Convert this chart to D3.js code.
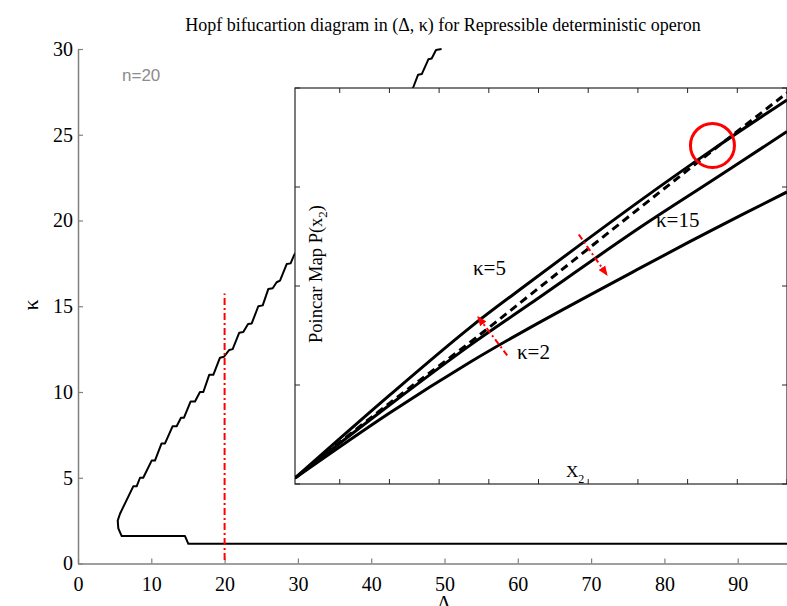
<!DOCTYPE html>
<html>
<head>
<meta charset="utf-8">
<script src="https://cdn.jsdelivr.net/npm/d3@7"></script>
<style>
  html, body { margin: 0; padding: 0; background: #fff; }
  svg { display: block; }
</style>
</head>
<body>
<script>
// ---------- data ----------
const titleText = "Hopf bifucartion diagram in (\u0394, \u03BA) for Repressible deterministic operon";
const xTicks = [0, 10, 20, 30, 40, 50, 60, 70, 80, 90];
const yTicks = [0, 5, 10, 15, 20, 25, 30];
// Hopf boundary [Delta, kappa]
const hopfBoundary = [
  [100, 1.15], [15.05, 1.15], [14.6, 1.6], [5.96, 1.6], [5.5, 2.05], [5.42, 2.5], [5.73, 2.9],
  [7.54, 4.5], [8.0, 4.5], [8.46, 5.0], [8.9, 5.0], [10.05, 6.0], [10.5, 6.0],
  [11.4, 7.0], [11.87, 7.0], [12.9, 8.0], [13.46, 8.0], [14.05, 8.5], [14.46, 8.5],
  [15.37, 9.45], [15.96, 9.45], [16.64, 10.0], [17.1, 10.0], [17.9, 11.0], [18.46, 11.0],
  [19.37, 12.0], [19.9, 12.05], [20.64, 12.45], [21.1, 12.5], [22.0, 13.46], [22.55, 13.5],
  [23.2, 13.96], [23.7, 14.0], [24.6, 15.0], [25.2, 15.05], [25.96, 16.0], [26.56, 16.05],
  [27.1, 16.4], [27.56, 16.5], [28.47, 17.46], [29.0, 17.5], [29.5, 18.0],
  [45.74, 27.77], [46.4, 28.5], [46.9, 28.54], [47.8, 29.4], [48.25, 29.45], [48.84, 29.94], [49.6, 30.0]
];
const redLineDelta = 20;
const redLineKappa = [0.2, 15.75];

// inset (Poincare map) series
const insetX       = [0.1, 2.01, 3.62, 4.83, 7.04, 8.51, 10];
const kappa5Top    = [0.06, 0.90, 1.58, 2.04, 2.86, 3.38, 3.88];
const identityDash = [0.06, 0.82, 1.43, 1.91, 2.79, 3.37, 3.95];
const kappa15Mid   = [0.06, 0.80, 1.40, 1.82, 2.59, 3.07, 3.56];
const kappa2Bottom = [0.06, 0.72, 1.23, 1.58, 2.18, 2.57, 2.95];
const insetXTicks = [1, 2, 3, 4, 5, 6, 7, 8, 9, 10];
const insetYTicks = [0, 1, 2, 3, 4];
const fixedPoint = [8.50, 3.42];
const arrows = [
  { from: [4.37, 1.30], to: [3.78, 1.69] },
  { from: [5.81, 2.52], to: [6.38, 2.11] }
];

// ---------- drawing ----------
const W = 787, H = 606;
const serif = "'Liberation Serif', 'Times New Roman', serif";
const svg = d3.select("body").append("svg").attr("width", W).attr("height", H)
  .attr("viewBox", `0 0 ${W} ${H}`);
svg.append("rect").attr("width", W).attr("height", H).attr("fill", "#fff");

const x = d3.scaleLinear().domain([0, 100]).range([78, 811]);
const y = d3.scaleLinear().domain([0, 30]).range([563.5, 49]);

svg.append("text").attr("x", 443).attr("y", 31).attr("text-anchor", "middle")
  .attr("font-family", serif).attr("font-size", 18).attr("fill", "#000").text(titleText);

// axes
const gy = svg.append("g").attr("transform", `translate(${x(0)},0)`)
  .call(d3.axisLeft(y).tickValues(yTicks).tickSize(-5).tickSizeOuter(0).tickPadding(5));
const gx = svg.append("g").attr("transform", `translate(0,${y(0)})`)
  .call(d3.axisBottom(x).tickValues(xTicks).tickSize(-5).tickSizeOuter(0).tickPadding(13));
[gx, gy].forEach(g => {
  g.attr("font-family", serif);
  g.select(".domain").attr("stroke", "#808080").attr("stroke-width", 1.5);
  g.selectAll(".tick line").attr("stroke", "#808080").attr("stroke-width", 1.2);
  g.selectAll(".tick text").attr("font-family", serif).attr("font-size", 20).attr("fill", "#000");
});

svg.append("text").attr("transform", "translate(38,305) rotate(-90)")
  .attr("text-anchor", "middle").attr("font-family", serif).attr("font-size", 22).text("\u03BA");
svg.append("text").attr("x", 444).attr("y", 610).attr("text-anchor", "middle")
  .attr("font-family", serif).attr("font-size", 20).text("\u0394");

svg.append("text").attr("x", 122).attr("y", 81)
  .attr("font-family", "'Liberation Sans', Arial, sans-serif").attr("font-size", 17)
  .attr("fill", "#8c8c8c").text("n=20");

// Hopf curve
svg.append("path").datum(hopfBoundary)
  .attr("d", d3.line().x(d => x(d[0])).y(d => y(d[1])))
  .attr("fill", "none").attr("stroke", "#000").attr("stroke-width", 2).attr("stroke-linejoin", "round");

// red dash-dot vertical line
svg.append("line")
  .attr("x1", x(redLineDelta)).attr("x2", x(redLineDelta))
  .attr("y1", y(redLineKappa[0])).attr("y2", y(redLineKappa[1]))
  .attr("stroke", "#ff0000").attr("stroke-width", 2).attr("stroke-dasharray", "7,3,2,3");

// ---------- inset ----------
const ix = d3.scaleLinear().domain([0.1, 10]).range([295, 787]);
const iy = d3.scaleLinear().domain([0, 4]).range([484, 88]);
const ins = svg.append("g");
ins.append("rect").attr("x", ix(0.1)).attr("y", iy(4))
  .attr("width", ix(10) - ix(0.1)).attr("height", iy(0) - iy(4))
  .attr("fill", "#fff").attr("stroke", "#262626").attr("stroke-width", 1.2);

const defs = svg.append("defs");
defs.append("clipPath").attr("id", "insetClip").append("rect")
  .attr("x", ix(0.1)).attr("y", iy(4)).attr("width", ix(10) - ix(0.1)).attr("height", iy(0) - iy(4));
defs.append("marker").attr("id", "redHead").attr("viewBox", "0 0 10 10")
  .attr("refX", 9).attr("refY", 5).attr("markerWidth", 10).attr("markerHeight", 10)
  .attr("markerUnits", "userSpaceOnUse").attr("orient", "auto")
  .append("path").attr("d", "M0,1 L10,5 L0,9 Z").attr("fill", "#ff0000");

const tickG = ins.append("g").attr("stroke", "#262626").attr("stroke-width", 1);
insetXTicks.forEach(t => {
  tickG.append("line").attr("x1", ix(t)).attr("x2", ix(t)).attr("y1", iy(4)).attr("y2", iy(4) + 5);
  tickG.append("line").attr("x1", ix(t)).attr("x2", ix(t)).attr("y1", iy(0)).attr("y2", iy(0) - 5);
});
insetYTicks.forEach(t => {
  tickG.append("line").attr("x1", ix(0.1)).attr("x2", ix(0.1) + 5).attr("y1", iy(t)).attr("y2", iy(t));
  tickG.append("line").attr("x1", ix(10)).attr("x2", ix(10) - 5).attr("y1", iy(t)).attr("y2", iy(t));
});

const curves = ins.append("g").attr("clip-path", "url(#insetClip)");
const iline = d3.line().x((d, i) => ix(insetX[i])).y(d => iy(d)).curve(d3.curveCatmullRom.alpha(0.5));
[kappa2Bottom, kappa15Mid, kappa5Top].forEach(s => {
  curves.append("path").datum(s).attr("d", iline)
    .attr("fill", "none").attr("stroke", "#000").attr("stroke-width", 3);
});
curves.append("path").datum(identityDash).attr("d", iline)
  .attr("fill", "none").attr("stroke", "#000").attr("stroke-width", 3).attr("stroke-dasharray", "8,5");

arrows.forEach(a => {
  curves.append("line")
    .attr("x1", ix(a.from[0])).attr("y1", iy(a.from[1]))
    .attr("x2", ix(a.to[0])).attr("y2", iy(a.to[1]))
    .attr("stroke", "#ff0000").attr("stroke-width", 2).attr("stroke-dasharray", "6,3,2,3")
    .attr("marker-end", "url(#redHead)");
});

curves.append("circle").attr("cx", ix(fixedPoint[0])).attr("cy", iy(fixedPoint[1])).attr("r", 22)
  .attr("fill", "none").attr("stroke", "#ff0000").attr("stroke-width", 3);

// inset texts
ins.append("text").attr("x", 473).attr("y", 275).attr("font-family", serif).attr("font-size", 21).text("\u03BA=5");
ins.append("text").attr("x", 656).attr("y", 227).attr("font-family", serif).attr("font-size", 21).text("\u03BA=15");
ins.append("text").attr("x", 517).attr("y", 359).attr("font-family", serif).attr("font-size", 21).text("\u03BA=2");

const yl = ins.append("text").attr("transform", "translate(322,274) rotate(-90)")
  .attr("text-anchor", "middle").attr("font-family", serif).attr("font-size", 18.5);
yl.append("tspan").text("Poincar Map P(x");
yl.append("tspan").attr("font-size", 13).attr("dy", 5).text("2");
yl.append("tspan").attr("dy", -5).text(")");

const xl = ins.append("text").attr("x", 566).attr("y", 477).attr("font-family", serif).attr("font-size", 17);
xl.append("tspan").text("X");
xl.append("tspan").attr("font-size", 12).attr("dy", 6).text("2");
</script>
</body>
</html>
